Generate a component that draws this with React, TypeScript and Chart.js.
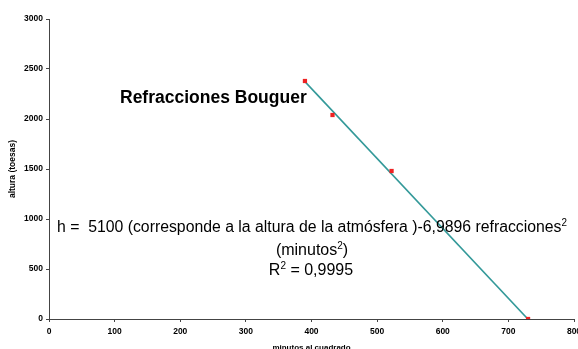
import { useEffect, useRef } from "react";
import { Chart, registerables } from "chart.js";

Chart.register(...registerables);

// ---- data ----
const xValues = [390, 432, 522, 730];
const yValues = [2380, 2040, 1480, 0];
const TREND_INTERCEPT = 5100;
const TREND_SLOPE = -6.9896;
const X_MIN = 0;
const X_MAX = 800;
const X_STEP = 100;
const Y_MIN = 0;
const Y_MAX = 3000;
const Y_STEP = 500;

const chartTitle = "Refracciones Bouguer";
const xTitle = "minutos al cuadrado";
const yTitle = "altura (toesas)";
const eqLine1 = [
  { t: "h =  5100 (corresponde a la altura de la atmósfera )-6,9896 refracciones" },
  { t: "2", sup: true },
];
const eqLine2 = [{ t: "(minutos" }, { t: "2", sup: true }, { t: ")" }];
const eqLine3 = [{ t: "R" }, { t: "2", sup: true }, { t: " = 0,9995" }];

const FONT = "'Liberation Sans', Arial, sans-serif";

type Seg = { t: string; sup?: boolean };

function drawSegs(ctx: CanvasRenderingContext2D, segs: Seg[], cx: number, baseline: number, fitWidth?: number) {
  const normal = `16px ${FONT}`;
  const small = `10px ${FONT}`;
  let total = 0;
  const widths = segs.map((s) => {
    ctx.font = s.sup ? small : normal;
    const w = ctx.measureText(s.t).width;
    total += w;
    return w;
  });
  const scale = fitWidth ? fitWidth / total : 1;
  ctx.save();
  ctx.translate(cx - (total * scale) / 2, baseline);
  ctx.scale(scale, 1);
  let x = 0;
  segs.forEach((s, i) => {
    ctx.font = s.sup ? small : normal;
    ctx.fillText(s.t, x, s.sup ? -6 : 0);
    x += widths[i];
  });
  ctx.restore();
}

const textPlugin = {
  id: "annotText",
  afterDraw(chart: any) {
    const ctx: CanvasRenderingContext2D = chart.ctx;
    ctx.save();
    ctx.fillStyle = "#000";
    ctx.textBaseline = "alphabetic";
    ctx.textAlign = "left";
    ctx.font = `bold 17.5px ${FONT}`;
    ctx.fillText(chartTitle, 120, 103);
    drawSegs(ctx, eqLine1, 312, 232, 510);
    drawSegs(ctx, eqLine2, 312, 255);
    drawSegs(ctx, eqLine3, 311, 275);
    ctx.restore();
  },
};

export default function App() {
  const ref = useRef<HTMLCanvasElement | null>(null);

  useEffect(() => {
    if (!ref.current) return;
    const points = xValues.map((x, i) => ({ x, y: yValues[i] }));
    const xs = [Math.min(...xValues), Math.max(...xValues)];
    const trend = xs.map((x) => ({ x, y: TREND_INTERCEPT + TREND_SLOPE * x }));

    const chart = new Chart(ref.current, {
      type: "scatter",
      data: {
        datasets: [
          {
            label: "datos",
            data: points,
            pointStyle: "rect",
            pointRadius: 3,
            pointBorderWidth: 0,
            backgroundColor: "#ee2222",
            borderColor: "#ee2222",
            order: 0,
          },
          {
            label: "tendencia",
            data: trend,
            showLine: true,
            borderColor: "#339999",
            borderWidth: 1.6,
            pointRadius: 0,
            order: 1,
          } as any,
        ],
      },
      options: {
        animation: false,
        responsive: false,
        devicePixelRatio: 1,
        layout: { padding: { top: 19, right: 1, left: 0, bottom: 0 } },
        plugins: { legend: { display: false }, tooltip: { enabled: false } },
        scales: {
          x: {
            type: "linear",
            min: X_MIN,
            max: X_MAX,
            afterFit: (s: any) => {
              s.height = 30;
              s.paddingLeft = 0;
              s.paddingRight = 0;
            },
            ticks: {
              stepSize: X_STEP,
              color: "#000",
              padding: 5,
              maxRotation: 0,
              autoSkip: false,
              callback: (v: any) => String(v),
              font: { family: FONT, size: 8.5, weight: "bold" },
            },
            grid: { display: true, drawOnChartArea: false, drawTicks: true, tickLength: 3, color: "#444" },
            border: { display: true, color: "#444", width: 1 },
            title: {
              display: true,
              text: xTitle,
              color: "#000",
              padding: { top: 0, bottom: 0 },
              font: { family: FONT, size: 8, weight: "bold", lineHeight: 0.3 },
            },
          },
          y: {
            type: "linear",
            min: Y_MIN,
            max: Y_MAX,
            afterFit: (s: any) => {
              s.width = 49;
              s.paddingTop = 0;
              s.paddingBottom = 0;
            },
            ticks: {
              stepSize: Y_STEP,
              color: "#000",
              padding: 3,
              callback: (v: any) => String(v),
              font: { family: FONT, size: 8.5, weight: "bold" },
            },
            grid: { display: true, drawOnChartArea: false, drawTicks: true, tickLength: 3, color: "#444" },
            border: { display: true, color: "#444", width: 1 },
            title: {
              display: true,
              text: yTitle,
              color: "#000",
              padding: { top: 8, bottom: 0 },
              font: { family: FONT, size: 8.5, weight: "bold" },
            },
          },
        },
      },
      plugins: [textPlugin],
    });
    return () => chart.destroy();
  }, []);

  return (
    <div style={{ position: "absolute", left: 0, top: 0, width: 578, height: 349, background: "#fff" }}>
      <canvas ref={ref} width={578} height={349} style={{ display: "block" }} />
    </div>
  );
}
